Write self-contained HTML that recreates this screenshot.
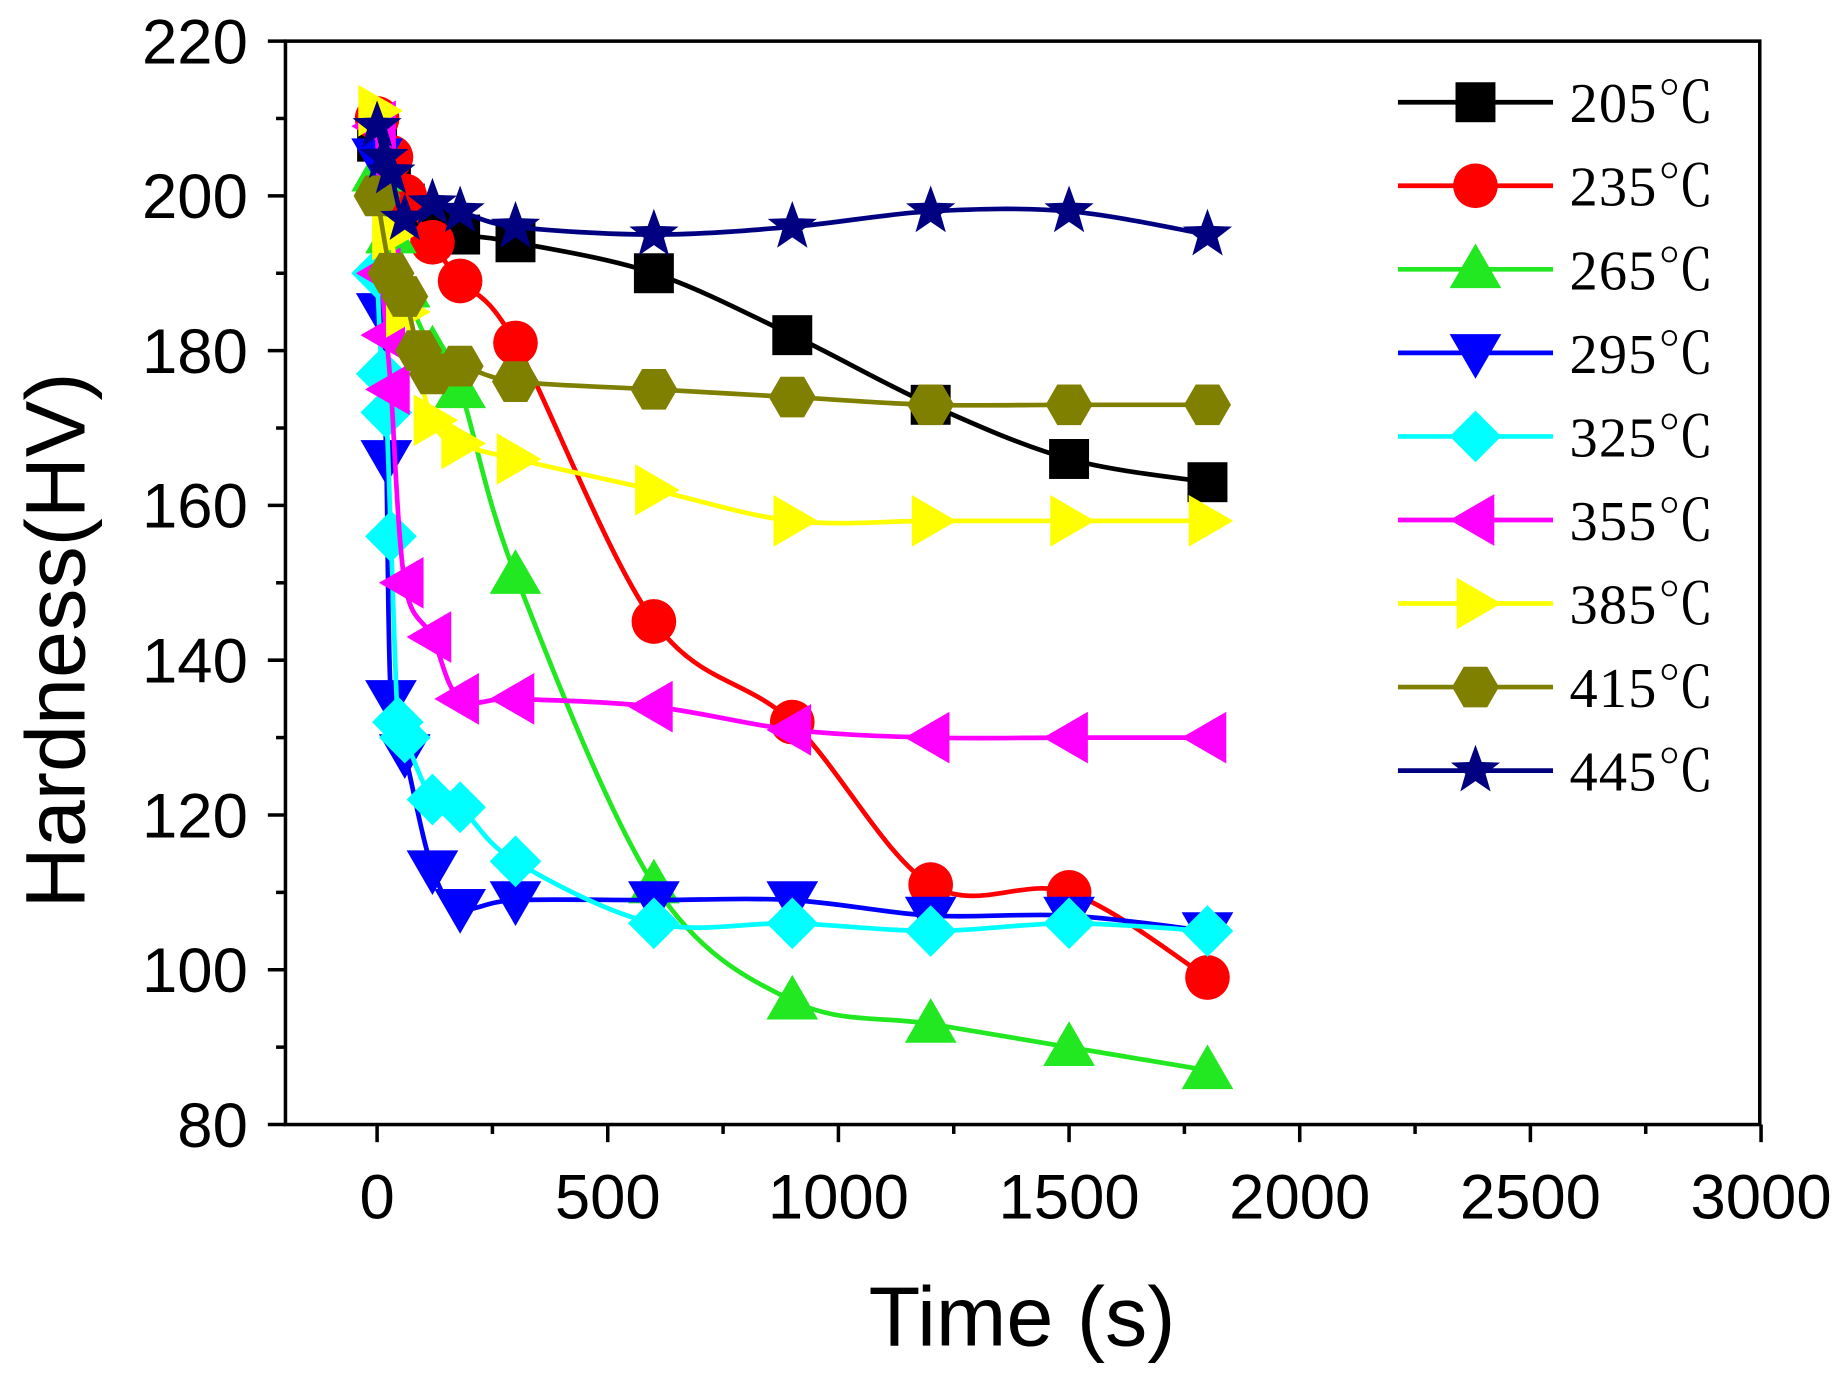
<!DOCTYPE html>
<html><head><meta charset="utf-8"><style>html,body{margin:0;padding:0;background:#fff}svg{display:block}</style></head>
<body>
<svg id="s" width="1842" height="1376" viewBox="0 0 1568 1171" preserveAspectRatio="none" xmlns="http://www.w3.org/2000/svg">
<rect x="0" y="0" width="1568" height="1171" fill="#fff"/>
<g id="g"></g>
</svg>
<script>
const g=document.getElementById('g');let h='';
const X=t=>321+t*0.3927, Y=v=>957-(v-80)*6.586;
h+='<rect x="243" y="35" width="1255" height="922" fill="none" stroke="#000" stroke-width="3"/>';
for(let v=80;v<=220;v+=10){const y=Y(v),maj=v%20==0;h+=`<line x1="${243-(maj?15:8)}" y1="${y}" x2="243" y2="${y}" stroke="#000" stroke-width="3"/>`;
 if(maj)h+=`<text x="211" y="${y+19}" text-anchor="end" font-family="Liberation Sans,sans-serif" font-size="54">${v}</text>`;}
for(let t=-250;t<=3000;t+=250){const x=X(t);if(x<242)continue;const maj=t%500==0;h+=`<line x1="${x}" y1="957" x2="${x}" y2="${957+(maj?15:8)}" stroke="#000" stroke-width="3"/>`;
 if(maj)h+=`<text x="${x}" y="1037" text-anchor="middle" font-family="Liberation Sans,sans-serif" font-size="54">${t}</text>`;}
h+='<text x="870" y="1145" text-anchor="middle" font-family="Liberation Sans,sans-serif" font-size="72">Time (s)</text>';
h+='<text transform="translate(72,545) rotate(-90)" text-anchor="middle" font-family="Liberation Sans,sans-serif" font-size="72">Hardness(HV)</text>';
const S=[
['205','#000','sq',[[0,207],[30,203],[60,199],[120,196],[180,195],[300,194],[600,190],[900,182],[1200,173],[1500,166],[1800,163]]],
['235','#ff0000','ci',[[0,210],[30,205],[60,200],[120,194],[180,189],[300,181],[600,145],[900,132],[1200,111],[1500,110],[1800,99]]],
['265','#22e822','tu',[[0,203],[30,195],[60,188],[120,180],[180,175],[300,151],[600,111],[900,96],[1200,93],[1500,90],[1800,87]]],
['295','#0000ff','td',[[0,205],[10,185],[20,166],[30,135],[60,128],[120,113],[180,108],[300,109],[600,109],[900,109],[1200,107],[1500,107],[1800,105]]],
['325','#00ffff','di',[[0,190],[10,177],[20,172],[30,156],[45,132],[60,130],[120,122],[180,121],[300,114],[600,106],[900,106],[1200,105],[1500,106],[1800,105]]],
['355','#ff00ff','tl',[[0,209],[10,190],[20,182],[30,175],[60,150],[120,143],[180,135],[300,135],[600,134],[900,131],[1200,130],[1500,130],[1800,130]]],
['385','#ffff00','tr',[[0,211],[30,195],[60,185],[120,171],[180,168],[300,166],[600,162],[900,158],[1200,158],[1500,158],[1800,158]]],
['415','#808000','hx',[[0,200],[30,190],[60,187],[90,180],[120,177],[180,178],[300,176],[600,175],[900,174],[1200,173],[1500,173],[1800,173]]],
['445','#000080','st',[[0,209],[15,205],[30,203],[60,197],[120,199],[180,198],[300,196],[600,195],[900,196],[1200,198],[1500,198],[1800,195]]]];
function mk(t,x,y,c){const r=20;
 if(t=='sq')return `<rect x="${x-17}" y="${y-17}" width="34" height="34" fill="${c}"/>`;
 if(t=='ci')return `<circle cx="${x}" cy="${y}" r="${r-1}" fill="${c}"/>`;
 const P=a=>`<polygon points="${a.map(p=>(x+p[0])+','+(y+p[1])).join(' ')}" fill="${c}"/>`;
 if(t=='tu')return P([[0,-22],[22,16],[-22,16]]);
 if(t=='td')return P([[0,22],[22,-16],[-22,-16]]);
 if(t=='tl')return P([[-22,0],[16,-22],[16,22]]);
 if(t=='tr')return P([[22,0],[-16,-22],[-16,22]]);
 if(t=='di')return P([[0,-22],[22,0],[0,22],[-22,0]]);
 if(t=='hx'){let a=[];for(let i=0;i<6;i++){const an=Math.PI/3*i;a.push([20*Math.cos(an),20*Math.sin(an)]);}return P(a);}
 if(t=='st'){let a=[];for(let i=0;i<10;i++){const an=-Math.PI/2+Math.PI/5*i,rr=i%2?9:22;a.push([rr*Math.cos(an),rr*Math.sin(an)]);}return P(a);}
}
function curve(pts){let d=`M${pts[0][0]},${pts[0][1]}`;for(let i=0;i<pts.length-1;i++){const p0=pts[i-1]||pts[i],p1=pts[i],p2=pts[i+1],p3=pts[i+2]||p2;
 const c1=[p1[0]+(p2[0]-p0[0])/6,p1[1]+(p2[1]-p0[1])/6],c2=[p2[0]-(p3[0]-p1[0])/6,p2[1]-(p3[1]-p1[1])/6];
 d+=` C${c1[0]},${c1[1]} ${c2[0]},${c2[1]} ${p2[0]},${p2[1]}`;}return d;}
S.forEach((s,i)=>{const pts=s[3].map(p=>[X(p[0]),Y(p[1])]);
 h+=`<path d="${curve(pts)}" fill="none" stroke="${s[1]}" stroke-width="4"/>`;
 pts.forEach(p=>h+=mk(s[2],p[0],p[1],s[1]));
 const ly=87+i*71.1;
 h+=`<line x1="1190" y1="${ly}" x2="1322" y2="${ly}" stroke="${s[1]}" stroke-width="4"/>`+mk(s[2],1256,ly,s[1]);
 h+=`<text x="1336" y="${ly+17}" font-family="Liberation Serif,'Noto Serif CJK SC',serif" font-size="48" letter-spacing="1">${s[0]}℃</text>`;});
g.innerHTML=h;
</script>
</body></html>
